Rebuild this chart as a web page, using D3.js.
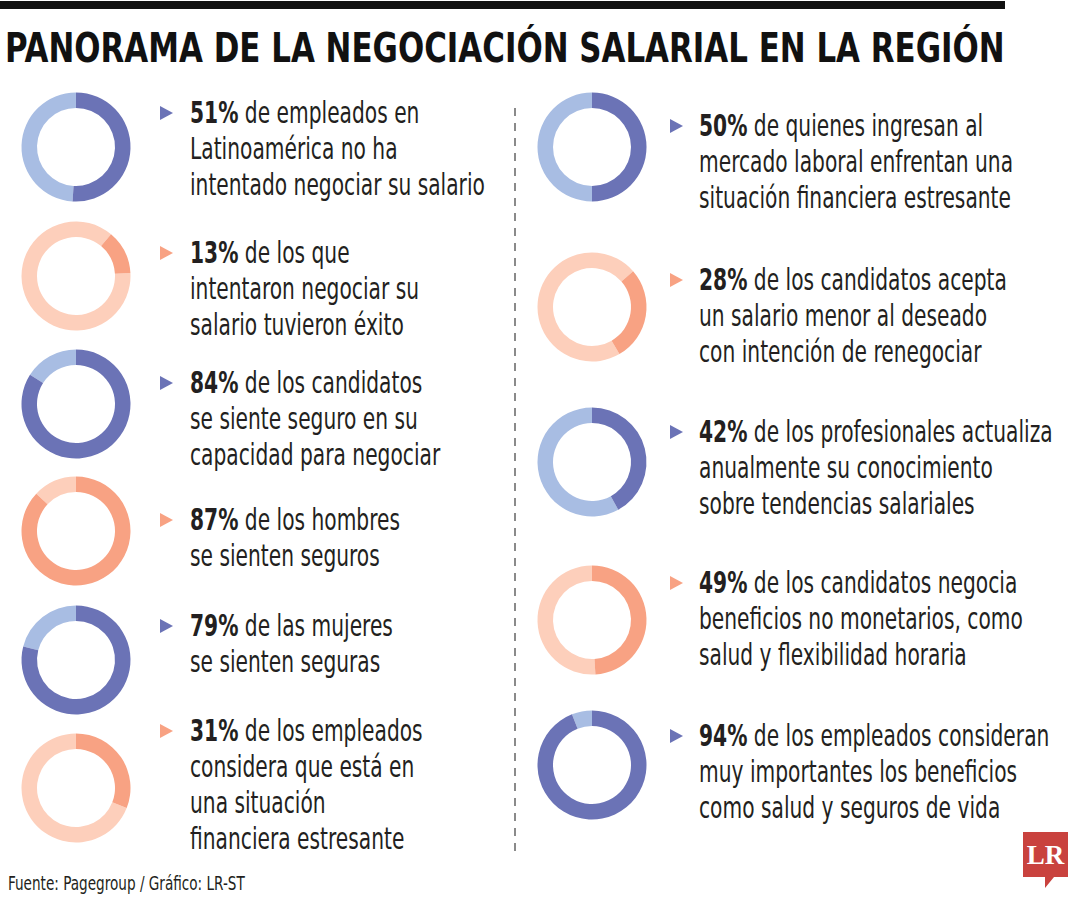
<!DOCTYPE html>
<html><head><meta charset="utf-8">
<script src="https://cdn.jsdelivr.net/npm/d3@7/dist/d3.min.js"></script>
<style>
html,body{margin:0;padding:0;background:#fff;}
svg{display:block;}
</style></head>
<body>
<svg id="chart" width="1080" height="900"></svg>
<script>
// ---------- DATA ----------
const title = "PANORAMA DE LA NEGOCIACIÓN SALARIAL EN LA REGIÓN";
const source = "Fuente: Pagegroup / Gráfico: LR-ST";

const leftValues = [51, 13, 84, 87, 79, 31];
const leftPalette = ["blue", "orange", "blue", "orange", "blue", "orange"];
const leftStartDeg = [0, 40, 0, 0, 0, 0];
const leftTexts = [
  ["de empleados en", "Latinoamérica no ha", "intentado negociar su salario"],
  ["de los que", "intentaron negociar su", "salario tuvieron éxito"],
  ["de los candidatos", "se siente seguro en su", "capacidad para negociar"],
  ["de los hombres", "se sienten seguros"],
  ["de las mujeres", "se sienten seguras"],
  ["de los empleados", "considera que está en", "una situación", "financiera estresante"]
];

const rightValues = [50, 28, 42, 49, 94];
const rightPalette = ["blue", "orange", "blue", "orange", "blue"];
const rightStartDeg = [0, 49, 0, 0, 0];
const rightTexts = [
  ["de quienes ingresan al", "mercado laboral enfrentan una", "situación financiera estresante"],
  ["de los candidatos acepta", "un salario menor al deseado", "con intención de renegociar"],
  ["de los profesionales actualiza", "anualmente su conocimiento", "sobre tendencias salariales"],
  ["de los candidatos negocia", "beneficios no monetarios, como", "salud y flexibilidad horaria"],
  ["de los empleados consideran", "muy importantes los beneficios", "como salud y seguros de vida"]
];

// ---------- LAYOUT ----------
const palettes = {
  blue:   {dark: "#6b73b6", light: "#a8bde3"},
  orange: {dark: "#f8a283", light: "#fdcfbb"}
};
const cols = [
  {cx: 76,  triX: 160, textX: 190, donutY: [147, 276, 404, 531, 660, 788], textY: [123, 263, 393, 530, 636, 741]},
  {cx: 592, triX: 670, textX: 699, donutY: [147, 307, 462, 620, 765],      textY: [136, 290, 442, 593, 746]}
];
const rOuter = 54.5, rInner = 39;
const lineH = 36, fontSize = 30;
const bodyFont = "'Liberation Sans Narrow', 'Arial Narrow', 'DejaVu Sans Condensed', sans-serif";

const svg = d3.select("#chart");

// top bar
svg.append("rect").attr("x", 0).attr("y", 1).attr("width", 1005).attr("height", 8).attr("fill", "#111");

// title, compressed horizontally to the reference width
const titleG = svg.append("g");
const titleT = titleG.append("text")
  .attr("x", 0).attr("y", 0)
  .style("font-family", bodyFont).style("font-weight", "bold").style("font-size", "41px")
  .attr("fill", "#111").text(title);
const titleW = titleT.node().getComputedTextLength();
titleG.attr("transform", `translate(5,62) scale(${1000 / titleW},1)`);

// divider
svg.append("line").attr("x1", 515).attr("x2", 515).attr("y1", 108).attr("y2", 852)
  .attr("stroke", "#8a8a8a").attr("stroke-width", 2).attr("stroke-dasharray", "8,7");

// measure horizontal compression so body text matches the condensed face
const probe = svg.append("text").style("font-family", bodyFont).style("font-size", fontSize + "px")
  .text("intentado negociar su salario");
const probeW = probe.node().getComputedTextLength();
probe.remove();
const sx = 295 / probeW;

const arc = d3.arc().innerRadius(rInner).outerRadius(rOuter);
const pct = d3.scaleLinear().domain([0, 100]).range([0, 2 * Math.PI]);

function drawColumn(colIdx, values, pal, startDeg, texts) {
  const c = cols[colIdx];
  values.forEach((v, i) => {
    const p = palettes[pal[i]];
    const s = startDeg[i] * Math.PI / 180;
    const g = svg.append("g").attr("transform", `translate(${c.cx},${c.donutY[i]})`);
    g.append("path").attr("d", arc({startAngle: s + pct(v), endAngle: s + 2 * Math.PI})).attr("fill", p.light);
    g.append("path").attr("d", arc({startAngle: s, endAngle: s + pct(v)})).attr("fill", p.dark);

    // triangle marker
    const ty = c.textY[i] - 10;
    svg.append("path")
      .attr("d", `M${c.triX},${ty - 7}L${c.triX + 13},${ty}L${c.triX},${ty + 7}Z`)
      .attr("fill", p.dark);

    // text block
    const tg = svg.append("g").attr("transform", `translate(${c.textX},${c.textY[i]}) scale(${sx},1)`);
    const t = tg.append("text").style("font-family", bodyFont).style("font-size", fontSize + "px").attr("fill", "#231f20");
    texts[i].forEach((line, j) => {
      if (j === 0) {
        t.append("tspan").attr("x", 0).attr("y", 0).style("font-weight", "bold").text(v + "%");
        t.append("tspan").text(" " + line);
      } else {
        t.append("tspan").attr("x", 0).attr("y", j * lineH).text(line);
      }
    });
  });
}
drawColumn(0, leftValues, leftPalette, leftStartDeg, leftTexts);
drawColumn(1, rightValues, rightPalette, rightStartDeg, rightTexts);

// source
const srcG = svg.append("g");
const srcT = srcG.append("text").attr("x", 0).attr("y", 0)
  .style("font-family", bodyFont).style("font-size", "20px").attr("fill", "#231f20").text(source);
const srcW = srcT.node().getComputedTextLength();
srcG.attr("transform", `translate(8,890) scale(${237 / srcW},1)`);

// LR logo
const logo = svg.append("g");
logo.append("path")
  .attr("d", "M1023,832H1068V877H1054L1045,888V877H1023Z")
  .attr("fill", "#c9423e");
logo.append("text").attr("x", 1045.5).attr("y", 864).attr("text-anchor", "middle")
  .style("font-family", "'Liberation Serif', 'DejaVu Serif', serif").style("font-weight", "bold")
  .style("font-size", "27px").attr("fill", "#fff").text("LR");
</script>
</body></html>
